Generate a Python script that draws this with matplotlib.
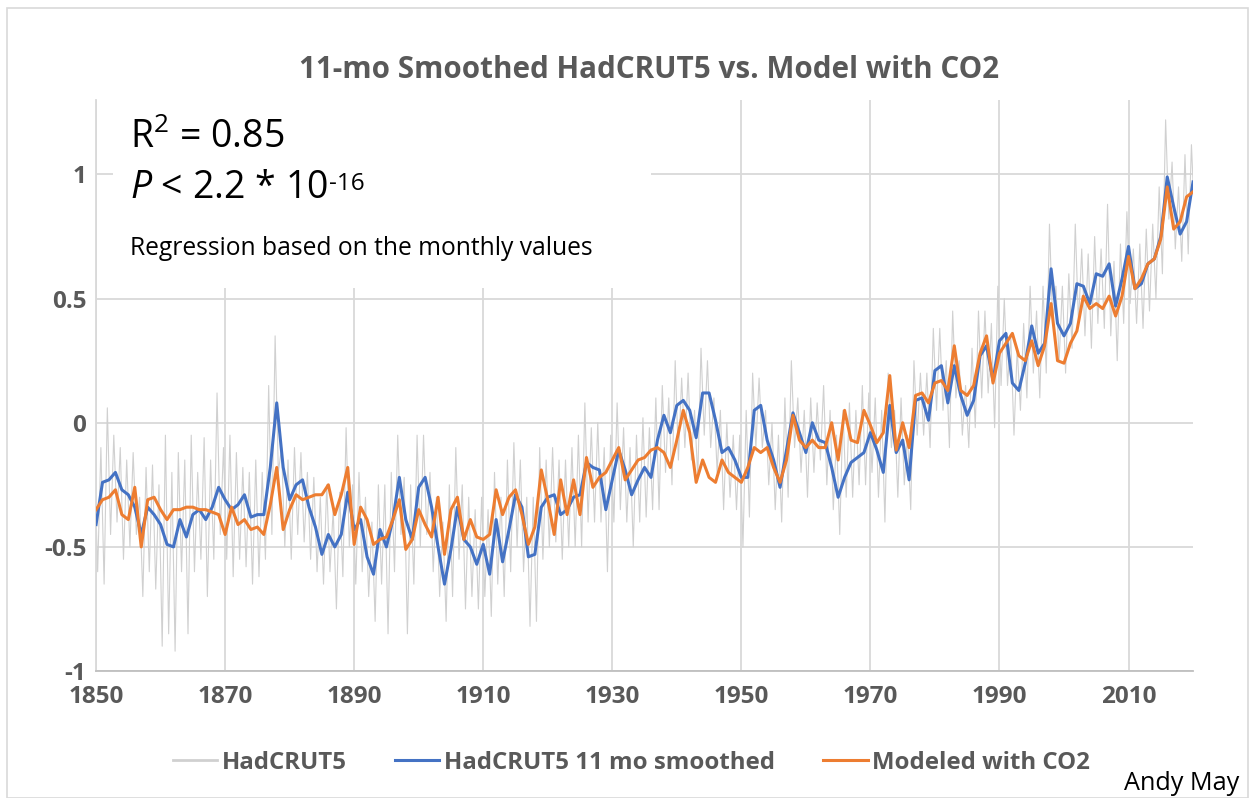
import matplotlib
matplotlib.use("Agg")
import matplotlib.pyplot as plt
from matplotlib.patches import Rectangle
from matplotlib.lines import Line2D
import numpy as np

plt.rcParams['font.family'] = ['Open Sans', 'DejaVu Sans']
plt.rcParams['mathtext.fontset'] = 'custom'
plt.rcParams['mathtext.rm'] = 'Open Sans'
plt.rcParams['mathtext.it'] = 'Open Sans:italic'

title = "11-mo Smoothed HadCRUT5 vs. Model with CO2"
first_year = 1850

# HadCRUT5 11-month smoothed, one value per year 1850-2020
smoothed = [
    -0.41, -0.24, -0.23, -0.20, -0.27, -0.29, -0.34, -0.45, -0.34, -0.37,
    -0.41, -0.49, -0.50, -0.39, -0.46, -0.37, -0.35, -0.39, -0.34, -0.26,
    -0.31, -0.35, -0.33, -0.29, -0.38, -0.37, -0.37, -0.18, 0.08, -0.18,
    -0.31, -0.25, -0.23, -0.34, -0.42, -0.53, -0.45, -0.50, -0.45, -0.28,
    -0.43, -0.39, -0.54, -0.61, -0.43, -0.50, -0.39, -0.22, -0.39, -0.47,
    -0.26, -0.22, -0.34, -0.50, -0.65, -0.51, -0.34, -0.47, -0.50, -0.57,
    -0.49, -0.61, -0.39, -0.56, -0.43, -0.29, -0.34, -0.54, -0.53, -0.34,
    -0.30, -0.29, -0.37, -0.35, -0.30, -0.29, -0.16, -0.18, -0.19, -0.35,
    -0.23, -0.11, -0.19, -0.29, -0.23, -0.18, -0.22, -0.07, 0.03, -0.04,
    0.07, 0.09, 0.05, -0.06, 0.12, 0.12, 0.01, -0.12, -0.10, -0.15,
    -0.22, -0.22, 0.05, 0.07, -0.07, -0.15, -0.26, -0.11, 0.04, -0.04,
    -0.12, 0.00, -0.07, -0.08, -0.18, -0.30, -0.22, -0.16, -0.14, -0.12,
    -0.04, -0.11, -0.20, 0.07, -0.12, -0.07, -0.23, 0.09, 0.10, 0.01,
    0.21, 0.23, 0.08, 0.23, 0.11, 0.03, 0.09, 0.27, 0.31, 0.17,
    0.33, 0.36, 0.16, 0.13, 0.24, 0.39, 0.28, 0.32, 0.62, 0.40,
    0.35, 0.40, 0.56, 0.55, 0.48, 0.60, 0.59, 0.64, 0.47, 0.58,
    0.71, 0.54, 0.56, 0.64, 0.66, 0.75, 0.99, 0.87, 0.76, 0.81,
    0.97,
]

# Modeled with CO2, one value per year 1850-2020
modeled = [
    -0.35, -0.31, -0.30, -0.27, -0.37, -0.39, -0.26, -0.50, -0.31, -0.30,
    -0.35, -0.39, -0.35, -0.35, -0.34, -0.34, -0.35, -0.35, -0.36, -0.37,
    -0.45, -0.34, -0.41, -0.39, -0.43, -0.42, -0.45, -0.33, -0.18, -0.43,
    -0.35, -0.29, -0.31, -0.30, -0.29, -0.29, -0.25, -0.37, -0.29, -0.18,
    -0.49, -0.34, -0.39, -0.49, -0.47, -0.46, -0.39, -0.31, -0.51, -0.47,
    -0.35, -0.41, -0.46, -0.30, -0.53, -0.35, -0.30, -0.47, -0.39, -0.46,
    -0.47, -0.45, -0.27, -0.37, -0.30, -0.27, -0.37, -0.49, -0.42, -0.19,
    -0.31, -0.45, -0.23, -0.37, -0.23, -0.37, -0.14, -0.26, -0.22, -0.20,
    -0.15, -0.10, -0.23, -0.19, -0.15, -0.14, -0.11, -0.10, -0.12, -0.18,
    -0.07, 0.05, -0.04, -0.24, -0.15, -0.22, -0.24, -0.15, -0.20, -0.22,
    -0.24, -0.18, -0.10, -0.12, -0.10, -0.18, -0.24, -0.15, 0.03, -0.07,
    -0.10, -0.07, -0.10, -0.10, 0.00, -0.15, 0.05, -0.07, -0.08, 0.05,
    -0.01, -0.08, -0.04, 0.19, -0.11, 0.00, -0.10, 0.11, 0.12, 0.08,
    0.16, 0.17, 0.13, 0.31, 0.13, 0.11, 0.15, 0.28, 0.35, 0.16,
    0.28, 0.32, 0.36, 0.27, 0.25, 0.33, 0.23, 0.31, 0.48, 0.25,
    0.24, 0.32, 0.37, 0.51, 0.46, 0.48, 0.46, 0.51, 0.43, 0.51,
    0.67, 0.54, 0.58, 0.64, 0.66, 0.74, 0.95, 0.78, 0.81, 0.91,
    0.93,
]

# HadCRUT5 monthly, yearly high and low swings 1850-2020
monthly_high = [
    -0.15, -0.10, 0.06, -0.05, -0.10, -0.15, -0.12, -0.30, -0.18, -0.17,
    -0.25, -0.05, -0.20, -0.12, -0.15, -0.05, -0.20, -0.06, -0.15, 0.12,
    -0.10, -0.05, -0.12, -0.18, -0.20, -0.15, -0.20, 0.15, 0.35, -0.10,
    -0.15, -0.10, -0.12, -0.20, -0.22, -0.30, -0.25, -0.35, -0.28, -0.02,
    -0.25, -0.20, -0.30, -0.40, -0.25, -0.25, -0.20, -0.05, -0.22, -0.25,
    -0.05, -0.05, -0.20, -0.30, -0.40, -0.25, -0.10, -0.25, -0.30, -0.35,
    -0.30, -0.35, -0.20, -0.30, -0.15, -0.08, -0.15, -0.30, -0.30, -0.10,
    -0.15, -0.10, -0.15, -0.15, -0.10, -0.05, 0.08, -0.02, 0.00, -0.10,
    -0.05, 0.08, -0.02, -0.10, -0.05, 0.02, -0.02, 0.10, 0.15, 0.10,
    0.25, 0.18, 0.20, 0.05, 0.30, 0.25, 0.10, 0.05, 0.00, -0.05,
    -0.05, 0.05, 0.20, 0.18, 0.05, 0.00, -0.05, 0.10, 0.25, 0.10,
    0.05, 0.10, 0.08, 0.15, 0.05, -0.05, 0.05, 0.08, 0.05, 0.15,
    0.12, 0.10, 0.05, 0.20, 0.05, 0.10, -0.05, 0.25, 0.20, 0.20,
    0.38, 0.38, 0.25, 0.45, 0.25, 0.15, 0.30, 0.45, 0.45, 0.40,
    0.55, 0.50, 0.35, 0.30, 0.40, 0.55, 0.45, 0.55, 0.80, 0.55,
    0.55, 0.60, 0.80, 0.70, 0.68, 0.75, 0.70, 0.88, 0.65, 0.72,
    0.85, 0.70, 0.72, 0.78, 0.80, 0.95, 1.22, 1.05, 0.95, 1.08,
    1.12,
]

monthly_low = [
    -0.60, -0.65, -0.45, -0.40, -0.55, -0.50, -0.45, -0.70, -0.60, -0.67,
    -0.90, -0.85, -0.92, -0.60, -0.85, -0.60, -0.55, -0.70, -0.55, -0.45,
    -0.55, -0.62, -0.55, -0.58, -0.65, -0.62, -0.55, -0.45, -0.20, -0.50,
    -0.55, -0.45, -0.48, -0.55, -0.60, -0.65, -0.60, -0.75, -0.62, -0.50,
    -0.65, -0.60, -0.70, -0.80, -0.65, -0.85, -0.60, -0.45, -0.85, -0.65,
    -0.50, -0.45, -0.60, -0.70, -0.80, -0.70, -0.55, -0.75, -0.70, -0.75,
    -0.70, -0.78, -0.65, -0.70, -0.60, -0.50, -0.60, -0.82, -0.80, -0.55,
    -0.50, -0.48, -0.55, -0.50, -0.50, -0.50, -0.40, -0.40, -0.40, -0.60,
    -0.40, -0.35, -0.40, -0.50, -0.40, -0.38, -0.35, -0.35, -0.20, -0.25,
    -0.15, -0.10, -0.15, -0.22, -0.05, -0.10, -0.20, -0.35, -0.30, -0.35,
    -0.50, -0.38, -0.10, -0.10, -0.25, -0.35, -0.40, -0.30, -0.10, -0.20,
    -0.30, -0.20, -0.15, -0.25, -0.35, -0.45, -0.30, -0.30, -0.25, -0.25,
    -0.20, -0.30, -0.40, -0.10, -0.30, -0.25, -0.35, -0.05, -0.05, -0.10,
    0.05, 0.05, -0.10, 0.10, -0.05, -0.10, -0.02, 0.10, 0.12, -0.02,
    0.15, 0.15, -0.05, 0.05, 0.10, 0.20, 0.10, 0.20, 0.40, 0.25,
    0.20, 0.30, 0.40, 0.35, 0.30, 0.40, 0.38, 0.35, 0.25, 0.40,
    0.48, 0.40, 0.38, 0.45, 0.50, 0.60, 0.82, 0.70, 0.65, 0.68,
    0.82,
]

y_ticks = [-1, -0.5, 0, 0.5, 1]
y_labels = ["-1", "-0.5", "0", "0.5", "1"]
x_ticks = [1850, 1870, 1890, 1910, 1930, 1950, 1970, 1990, 2010]
legend_labels = ["HadCRUT5", "HadCRUT5 11 mo smoothed", "Modeled with CO2"]

years = np.arange(first_year, first_year + len(smoothed))
# interleave the high/low swings so the monthly trace zigzags
raw_x = np.column_stack([years - 0.25, years + 0.25]).ravel()
raw_y = np.column_stack([monthly_high, monthly_low]).ravel()

grey = "#595959"
fig = plt.figure(figsize=(12.49, 7.98), dpi=100)
fig.patches.append(Rectangle((0.006, 0.0), 0.993, 0.99, transform=fig.transFigure,
                             fill=False, edgecolor="#d9d9d9", linewidth=1.2))

ax = fig.add_axes([0.0769, 0.1591, 0.8783, 0.7156])
ax.plot(raw_x, raw_y, color="#d0d0d0", linewidth=0.8, zorder=2)
ax.plot(years, smoothed, color="#4472c4", linewidth=2.2, zorder=3)
ax.plot(years, modeled, color="#ed7d31", linewidth=2.2, zorder=4)

ax.set_xlim(1850, 2020)
ax.set_ylim(-1, 1.3)
ax.set_xticks(x_ticks)
ax.set_yticks(y_ticks)
ax.set_yticklabels(y_labels)
ax.tick_params(length=0, labelsize=17.5, labelcolor=grey)
ax.tick_params(axis="x", pad=10)
ax.tick_params(axis="y", pad=7)
for lab in ax.get_xticklabels() + ax.get_yticklabels():
    lab.set_fontweight("bold")
ax.grid(True, color="#d9d9d9", linewidth=1.3)
ax.set_axisbelow(True)
for s in ["top", "right"]:
    ax.spines[s].set_visible(False)
ax.spines["left"].set_color("#d9d9d9")
ax.spines["bottom"].set_color("#bfbfbf")
ax.spines["left"].set_linewidth(1.3)
ax.spines["bottom"].set_linewidth(1.3)

# white text box over the upper-left corner of the plot area
ax.add_patch(Rectangle((0.0155, 0.671), 0.49, 0.329, transform=ax.transAxes,
                       facecolor="white", edgecolor="none", zorder=1.5))
ax.text(0.031, 0.916, r"R$^{2}$ = 0.85", transform=ax.transAxes, fontsize=27,
        va="baseline", ha="left", zorder=5, color="black")
p_txt = ax.text(0.031, 0.828, r"$P$ < 2.2 * 10", transform=ax.transAxes,
                fontsize=27, va="baseline", ha="left", zorder=5, color="black")
ax.annotate("-16", xy=(1.0, 0.93), xycoords=p_txt, xytext=(1, 0),
            textcoords="offset points", fontsize=17.5, va="top", ha="left",
            zorder=5, color="black")
ax.text(0.031, 0.7285, "Regression based on the monthly values", transform=ax.transAxes,
        fontsize=17.7, va="baseline", ha="left", zorder=5, color="black")

fig.text(0.5196, 0.912, title, ha="center", va="center", fontsize=21.3,
         color=grey, fontweight="bold")

handles = [Line2D([], [], color="#d0d0d0", linewidth=2),
           Line2D([], [], color="#4472c4", linewidth=2.2),
           Line2D([], [], color="#ed7d31", linewidth=2.2)]
leg = fig.legend(handles, legend_labels,
                 loc="center", bbox_to_anchor=(0.5056, 0.044), ncol=3, frameon=False,
                 handlelength=1.85, handletextpad=0.2, columnspacing=2.0,
                 prop={"size": 17.3, "weight": "bold"})
for t in leg.get_texts():
    t.set_color(grey)

fig.text(0.992, 0.018, "Andy May", ha="right", va="center", fontsize=18.2, color="black")

fig.savefig("out.png", dpi=100)
